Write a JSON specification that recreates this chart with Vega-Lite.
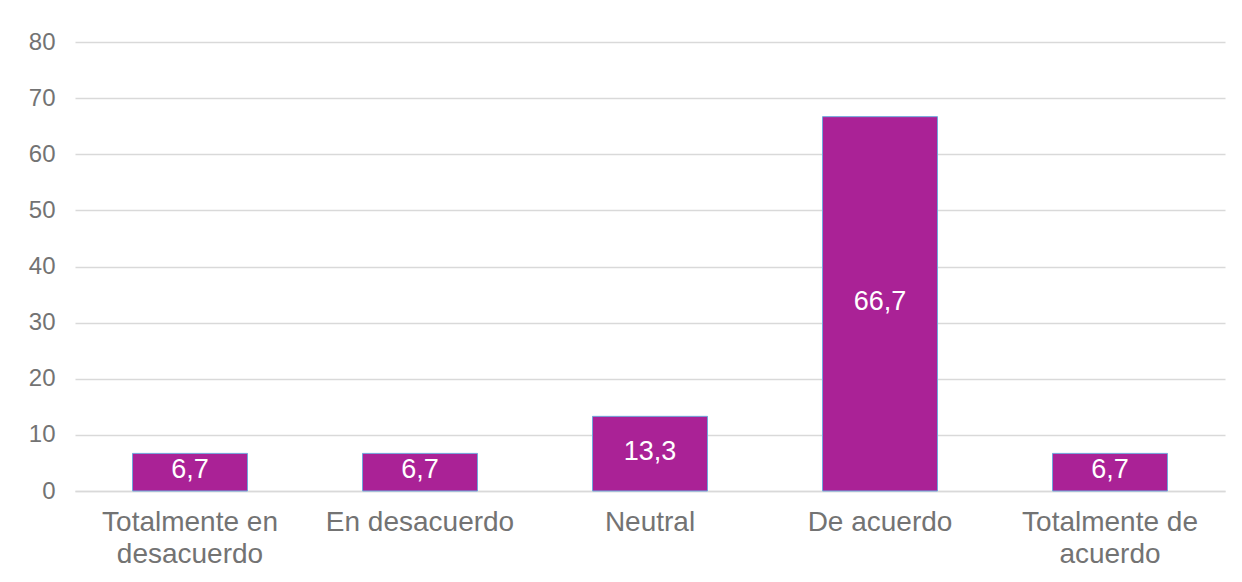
{
  "$schema": "https://vega.github.io/schema/vega-lite/v6.json",
  "autosize": {"type": "none"},
  "width": 1150,
  "height": 449,
  "padding": {"left": 75, "top": 42, "right": 17, "bottom": 91},
  "background": "white",
  "config": {
    "view": {"stroke": null},
    "font": "Liberation Sans",
    "locale": {"number": {"decimal": ",", "thousands": ".", "grouping": [3], "currency": ["", " €"]}}
  },
  "data": {
    "values": [
      {"categoria": "Totalmente en desacuerdo", "valor": 6.7},
      {"categoria": "En desacuerdo", "valor": 6.7},
      {"categoria": "Neutral", "valor": 13.3},
      {"categoria": "De acuerdo", "valor": 66.7},
      {"categoria": "Totalmente de acuerdo", "valor": 6.7}
    ]
  },
  "encoding": {
    "x": {
      "field": "categoria",
      "type": "nominal",
      "sort": null,
      "scale": {"paddingInner": 0.5, "paddingOuter": 0.25},
      "axis": {
        "title": null,
        "labelAngle": 0,
        "labelFontSize": 28,
        "labelLimit": 400,
        "labelColor": "#737373",
        "labelPadding": 17,
        "labelLineHeight": 32,
        "labelExpr": "datum.label == 'Totalmente en desacuerdo' ? ['Totalmente en', 'desacuerdo'] : datum.label == 'Totalmente de acuerdo' ? ['Totalmente de', 'acuerdo'] : datum.label",
        "ticks": false,
        "domainColor": "#d9d9d9",
        "domainWidth": 1.5,
        "grid": false
      }
    }
  },
  "layer": [
    {
      "mark": {"type": "bar", "color": "#AA2296", "stroke": "#6FA8DC", "strokeWidth": 1},
      "encoding": {
        "y": {
          "field": "valor",
          "type": "quantitative",
          "scale": {"domain": [0, 80]},
          "axis": {
            "title": null,
            "values": [0, 10, 20, 30, 40, 50, 60, 70, 80],
            "labelFontSize": 24,
            "labelColor": "#737373",
            "labelPadding": 20,
            "ticks": false,
            "domain": false,
            "gridColor": "#d9d9d9",
            "gridWidth": 1.5
          }
        }
      }
    },
    {
      "transform": [{"calculate": "datum.valor / 2", "as": "medio"}],
      "mark": {"type": "text", "color": "white", "fontSize": 27, "baseline": "middle", "dy": -2},
      "encoding": {
        "y": {"field": "medio", "type": "quantitative"},
        "text": {"field": "valor", "type": "quantitative", "format": ".1f"}
      }
    }
  ]
}
